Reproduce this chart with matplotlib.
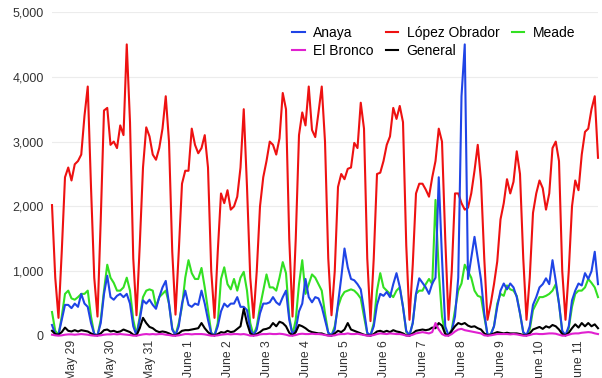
import matplotlib
matplotlib.use("Agg")
import matplotlib.pyplot as plt
import matplotlib.ticker as mticker
import pandas as pd

# 2-hourly samples, 2018-05-28 12:00 to 2018-06-11 12:00
times = pd.date_range("2018-05-28 12:00", periods=169, freq="2h")

lopez_obrador = [
    2020, 900, 280, 1300, 2450, 2600, 2400, 2650, 2700, 2800, 3400, 3850,
    2300, 900, 300, 1800, 3480, 3520, 2950, 3000, 2900, 3250, 3100, 4500,
    3300, 1200, 320, 1400, 2600, 3220, 3080, 2800, 2720, 2900, 3200, 3700,
    3000, 1300, 330, 1300, 2350, 2550, 2550, 3200, 2950, 2820, 2900, 3100,
    2600, 1000, 280, 1300, 2200, 2050, 2250, 1950, 2000, 2150, 2600, 3500,
    2300, 900, 280, 1000, 2000, 2450, 2700, 3000, 2950, 2800, 3050, 3750,
    3500, 1500, 300, 1500, 3100, 3450, 3250, 3850, 3180, 3070, 3450, 3850,
    3000, 1200, 320, 1000, 2300, 2500, 2420, 2580, 2600, 2980, 2900, 3600,
    3200, 1200, 230, 1200, 2500, 2520, 2700, 2950, 3080, 3520, 3350, 3550,
    3300, 1400, 250, 1100, 2200, 2350, 2350, 2260, 2150, 2450, 2700, 3200,
    3000, 1500, 250, 1000, 2200, 2200, 2050, 1950, 1980, 2200, 2550, 2950,
    2400, 1200, 250, 500, 800, 1150, 1800, 2050, 2420, 2200, 2380, 2850,
    2500, 1200, 250, 900, 1900, 2200, 2400, 2280, 1950, 2200, 2900, 3000,
    2700, 1000, 250, 1000, 2000, 2400, 2250, 2800, 3150, 3200, 3500, 3700, 2750,
]

anaya = [
    170, 30, 20, 250, 480, 480, 430, 500, 450, 650, 500, 450,
    200, 30, 10, 200, 650, 930, 600, 560, 620, 650, 600, 650,
    500, 150, 10, 250, 550, 500, 560, 480, 420, 600, 750, 850,
    500, 100, 10, 150, 500, 700, 480, 450, 500, 480, 700, 500,
    250, 40, 10, 150, 380, 500, 450, 500, 500, 600, 450, 450,
    400, 100, 10, 100, 350, 500, 500, 520, 600, 520, 480, 600,
    700, 250, 20, 100, 380, 500, 880, 600, 520, 600, 580, 450,
    250, 50, 10, 100, 500, 900, 1350, 1060, 880, 860, 800, 720,
    400, 50, 10, 150, 480, 650, 620, 680, 600, 800, 970, 760,
    450, 80, 10, 200, 650, 890, 820, 750, 650, 810, 900, 2450,
    1200, 150, 10, 80, 300, 900, 3700, 4500, 880, 1200, 1530, 1200,
    870, 350, 20, 20, 150, 450, 700, 810, 720, 810, 750, 600,
    350, 60, 10, 150, 480, 600, 750, 800, 890, 800, 1170, 850,
    500, 80, 10, 150, 550, 700, 810, 780, 970, 880, 1000, 1300, 800,
]

meade = [
    370, 80, 20, 300, 650, 700, 580, 560, 600, 650, 650, 700,
    300, 30, 10, 250, 700, 1100, 900, 820, 700, 700, 750, 900,
    700, 250, 20, 300, 600, 700, 720, 700, 450, 600, 650, 700,
    500, 120, 10, 200, 450, 900, 1170, 970, 880, 880, 1050, 750,
    400, 50, 10, 200, 880, 1060, 800, 720, 880, 700, 900, 990,
    700, 200, 10, 150, 450, 700, 950, 750, 750, 700, 900, 1140,
    970, 300, 20, 250, 800, 1170, 650, 800, 950, 900, 800, 700,
    350, 50, 10, 150, 450, 600, 680, 700, 720, 700, 650, 580,
    300, 40, 10, 200, 700, 970, 750, 700, 650, 600, 700, 750,
    450, 60, 10, 200, 650, 700, 700, 800, 880, 800, 2100, 1000,
    300, 30, 10, 100, 400, 700, 810, 1100, 1000, 900, 700, 620,
    600, 300, 20, 30, 150, 500, 650, 620, 780, 720, 700, 620,
    350, 50, 10, 100, 400, 500, 600, 600, 620, 650, 700, 800,
    500, 60, 10, 120, 450, 650, 700, 700, 750, 880, 820, 750, 600,
]

general = [
    80, 30, 20, 60, 130, 80, 70, 90, 70, 90, 80, 70,
    40, 15, 10, 40, 90, 100, 70, 80, 60, 70, 100, 80,
    60, 20, 10, 120, 280, 200, 140, 120, 80, 60, 70, 60,
    40, 15, 10, 40, 80, 90, 90, 100, 110, 120, 200, 120,
    60, 20, 10, 30, 60, 50, 80, 60, 70, 110, 150, 420,
    200, 40, 10, 30, 60, 100, 110, 130, 200, 150, 220, 200,
    150, 50, 10, 60, 170, 150, 120, 80, 60, 50, 40, 40,
    20, 10, 5, 40, 80, 60, 100, 200, 100, 80, 60, 40,
    20, 10, 5, 30, 70, 80, 60, 80, 60, 90, 70, 60,
    40, 10, 5, 40, 80, 90, 100, 90, 100, 130, 120, 200,
    160, 30, 10, 80, 150, 200, 180, 200, 160, 140, 150, 120,
    100, 40, 10, 20, 40, 60, 50, 40, 50, 40, 40, 40,
    30, 15, 10, 40, 100, 120, 140, 110, 150, 130, 170, 150,
    100, 30, 10, 50, 120, 180, 130, 200, 150, 200, 150, 180, 120,
]

el_bronco = [
    20, 10, 5, 10, 20, 25, 25, 20, 25, 30, 25, 20,
    10, 5, 5, 10, 20, 25, 25, 30, 25, 30, 25, 20,
    15, 5, 5, 15, 25, 30, 25, 30, 25, 30, 30, 20,
    15, 5, 5, 10, 20, 30, 30, 25, 30, 30, 30, 25,
    15, 5, 5, 10, 20, 25, 30, 25, 30, 30, 25, 30,
    20, 5, 5, 10, 25, 30, 30, 35, 30, 30, 35, 30,
    20, 5, 5, 15, 30, 35, 30, 30, 35, 30, 30, 25,
    15, 5, 5, 10, 25, 30, 30, 40, 30, 30, 35, 25,
    15, 5, 5, 15, 30, 40, 35, 30, 40, 35, 30, 30,
    20, 5, 5, 20, 40, 50, 60, 50, 40, 60, 200, 100,
    30, 5, 5, 30, 70, 100, 110, 90, 80, 70, 60, 50,
    40, 10, 5, 10, 20, 30, 30, 30, 30, 25, 30, 25,
    15, 5, 5, 15, 30, 35, 30, 30, 35, 40, 40, 35,
    20, 5, 5, 20, 35, 40, 40, 50, 55, 60, 55, 40, 30,
]

tick_dates = pd.date_range("2018-05-29", "2018-06-11", freq="D")
tick_labels = ["May 29", "May 30", "May 31", "June 1", "June 2", "June 3", "June 4",
               "June 5", "June 6", "June 7", "June 8", "June 9", "June 10", "June 11"]
y_ticks = [0, 1000, 2000, 3000, 4000, 5000]

plt.rcParams["font.family"] = ["Liberation Sans", "DejaVu Sans"]

fig = plt.figure(figsize=(6.02, 3.78), dpi=100)
ax = fig.add_axes([52 / 602, 1 - 336 / 378, 546 / 602, 324 / 378])

series = [
    ("López Obrador", lopez_obrador, "#ee1111"),
    ("Meade", meade, "#33e022"),
    ("Anaya", anaya, "#1f44e6"),
    ("General", general, "#000000"),
    ("El Bronco", el_bronco, "#e020d0"),
]
lines = {}
for name, vals, col in series:
    (ln,) = ax.plot(times, vals, color=col, lw=1.5, label=name, clip_on=False,
                    solid_joinstyle="round")
    lines[name] = ln

ax.set_xlim(times[0], times[-1])
ax.set_ylim(0, 5000)
ax.set_yticks(y_ticks)
ax.yaxis.set_major_formatter(mticker.FuncFormatter(lambda v, p: f"{v:,.0f}"))
ax.set_xticks(tick_dates)
ax.set_xticklabels(tick_labels, rotation=90)
ax.tick_params(axis="both", length=0, labelsize=9, labelcolor="#333333")
ax.tick_params(axis="x", pad=3, labelsize=8.8)
ax.tick_params(axis="y", pad=6)
ax.grid(axis="y", color="#ececec", lw=0.8)
ax.set_axisbelow(True)
for s in ax.spines.values():
    s.set_visible(False)

order = ["Anaya", "El Bronco", "López Obrador", "General", "Meade"]
ax.legend([lines[n] for n in order], order, ncol=3, frameon=False, fontsize=10,
          loc="upper left", bbox_to_anchor=(292 / 602, 1 - 26 / 378),
          bbox_transform=fig.transFigure, borderpad=0, borderaxespad=0,
          handlelength=0.9, handletextpad=0.6, columnspacing=0.9,
          labelspacing=0.3)

fig.savefig("out.png", dpi=100)
